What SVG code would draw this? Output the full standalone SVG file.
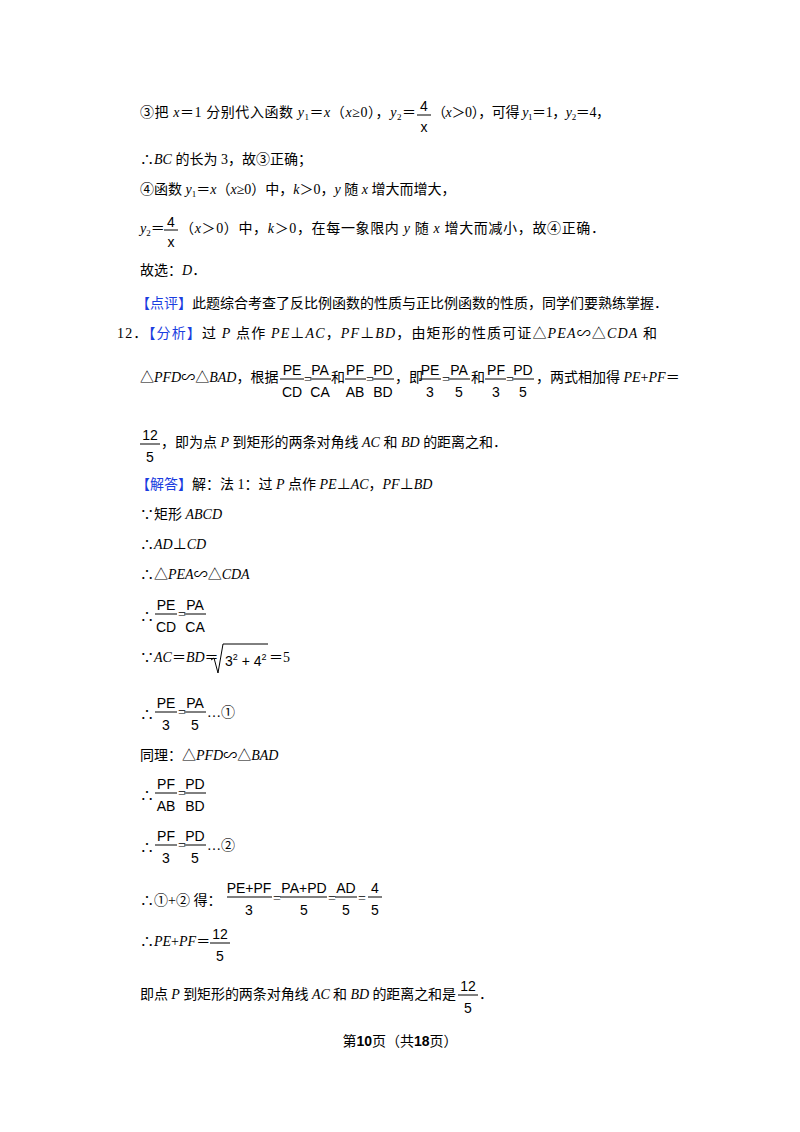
<svg xmlns="http://www.w3.org/2000/svg" width="800" height="1132" viewBox="0 0 800 1132">
<style>
text{font-family:"Liberation Serif","Noto Sans CJK SC",serif;font-size:14px;fill:#000}
.i{font-style:italic}
.b{fill:#1a3de0}
.f{font-family:"Liberation Sans Narrow","Liberation Sans",sans-serif;font-size:14px}
.c{text-anchor:middle}
line{stroke:#000;stroke-width:1}
.s{font-size:9px}
</style>
<rect width="800" height="1132" fill="#fff"/>
<g id="l1">
<text x="140" y="117" textLength="276">③把 <tspan class="i">x</tspan>＝1 分别代入函数 <tspan class="i">y</tspan><tspan class="s" dy="3">1</tspan><tspan dy="-3">＝</tspan><tspan class="i">x</tspan>（<tspan class="i">x</tspan>≥0），<tspan class="i">y</tspan><tspan class="s" dy="3">2</tspan><tspan dy="-3">＝</tspan></text>
<text class="f c" x="424" y="111">4</text><line x1="417" y1="115" x2="431" y2="115"/><text class="f c" x="424" y="132">x</text>
<text x="432" y="117" textLength="178">（<tspan class="i">x</tspan>＞0），可得 <tspan class="i">y</tspan><tspan class="s" dy="3">1</tspan><tspan dy="-3">＝1，</tspan><tspan class="i">y</tspan><tspan class="s" dy="3">2</tspan><tspan dy="-3">＝4，</tspan></text>
</g>
<g id="l2">
<text x="140" y="164">∴<tspan class="i">BC</tspan> 的长为 3，故③正确；</text>
<text x="140" y="194">④函数 <tspan class="i">y</tspan><tspan class="s" dy="3">1</tspan><tspan dy="-3">＝</tspan><tspan class="i">x</tspan>（<tspan class="i">x</tspan>≥0）中，<tspan class="i">k</tspan>＞0，<tspan class="i">y</tspan> 随 <tspan class="i">x</tspan> 增大而增大，</text>
<text x="140" y="233"><tspan class="i">y</tspan><tspan class="s" dy="3">2</tspan><tspan dy="-3">＝</tspan></text>
<text class="f c" x="171" y="227">4</text><line x1="164" y1="230" x2="178" y2="230"/><text class="f c" x="171" y="247">x</text>
<text x="180" y="233" textLength="425">（<tspan class="i">x</tspan>＞0）中，<tspan class="i">k</tspan>＞0，在每一象限内 <tspan class="i">y</tspan> 随 <tspan class="i">x</tspan> 增大而减小，故④正确．</text>
<text x="140" y="275">故选：<tspan class="i">D</tspan>．</text>
<text x="136" y="308"><tspan class="b">【点评】</tspan>此题综合考查了反比例函数的性质与正比例函数的性质，同学们要熟练掌握．</text>
</g>
<g id="l12">
<text x="117" y="338" textLength="540">12．<tspan class="b">【分析】</tspan>过 <tspan class="i">P</tspan> 点作 <tspan class="i">PE</tspan>⊥<tspan class="i">AC</tspan>，<tspan class="i">PF</tspan>⊥<tspan class="i">BD</tspan>，由矩形的性质可证△<tspan class="i">PEA</tspan>∽△<tspan class="i">CDA</tspan> 和</text>
<text x="140" y="382">△<tspan class="i">PFD</tspan>∽△<tspan class="i">BAD</tspan>，根据</text>
<text class="f c" x="292" y="375">PE</text><line x1="280" y1="379" x2="304" y2="379"/><text class="f c" x="292" y="397">CD</text>
<text x="304" y="384">=</text>
<text class="f c" x="320" y="375">PA</text><line x1="310" y1="379" x2="331" y2="379"/><text class="f c" x="320" y="397">CA</text>
<text x="331" y="382">和</text>
<text class="f c" x="355" y="375">PF</text><line x1="345" y1="379" x2="366" y2="379"/><text class="f c" x="355" y="397">AB</text>
<text x="366" y="384">=</text>
<text class="f c" x="383" y="375">PD</text><line x1="372" y1="379" x2="394" y2="379"/><text class="f c" x="383" y="397">BD</text>
<text x="395" y="382">，即</text>
<text class="f c" x="430" y="375">PE</text><line x1="419" y1="379" x2="441" y2="379"/><text class="f c" x="430" y="397">3</text>
<text x="442" y="384">=</text>
<text class="f c" x="459" y="375">PA</text><line x1="448" y1="379" x2="470" y2="379"/><text class="f c" x="459" y="397">5</text>
<text x="471" y="382">和</text>
<text class="f c" x="496" y="375">PF</text><line x1="485" y1="379" x2="506" y2="379"/><text class="f c" x="496" y="397">3</text>
<text x="506" y="384">=</text>
<text class="f c" x="523" y="375">PD</text><line x1="512" y1="379" x2="534" y2="379"/><text class="f c" x="523" y="397">5</text>
<text x="536" y="382">，两式相加得 <tspan class="i">PE</tspan>+<tspan class="i">PF</tspan>＝</text>
<text class="f c" x="150" y="440">12</text><line x1="140" y1="444" x2="160" y2="444"/><text class="f c" x="150" y="462">5</text>
<text x="161" y="447">，即为点 <tspan class="i">P</tspan> 到矩形的两条对角线 <tspan class="i">AC</tspan> 和 <tspan class="i">BD</tspan> 的距离之和．</text>
</g>
<g id="sol">
<text x="136" y="489"><tspan class="b">【解答】</tspan>解：法 1：过 <tspan class="i">P</tspan> 点作 <tspan class="i">PE</tspan>⊥<tspan class="i">AC</tspan>，<tspan class="i">PF</tspan>⊥<tspan class="i">BD</tspan></text>
<text x="140" y="519">∵矩形 <tspan class="i">ABCD</tspan></text>
<text x="140" y="549">∴<tspan class="i">AD</tspan>⊥<tspan class="i">CD</tspan></text>
<text x="140" y="579">∴△<tspan class="i">PEA</tspan>∽△<tspan class="i">CDA</tspan></text>
<text x="140" y="621">∴</text>
<text class="f c" x="166" y="610">PE</text><line x1="155" y1="614" x2="177" y2="614"/><text class="f c" x="166" y="632">CD</text>
<text x="178" y="619">=</text>
<text class="f c" x="195" y="610">PA</text><line x1="184" y1="614" x2="206" y2="614"/><text class="f c" x="195" y="632">CA</text>
<text x="140" y="662">∵<tspan class="i">AC</tspan>＝<tspan class="i">BD</tspan>＝</text>
<path d="M211 660 L214 658 L218 673 L223 644 L268 644" fill="none" stroke="#000"/>
<text class="f" x="225" y="666">3<tspan font-size="9" dy="-6">2</tspan><tspan dy="6"> + 4</tspan><tspan font-size="9" dy="-6">2</tspan></text>
<text x="269" y="662">＝5</text>
<text x="140" y="719">∴</text>
<text class="f c" x="166" y="708">PE</text><line x1="155" y1="712" x2="177" y2="712"/><text class="f c" x="166" y="730">3</text>
<text x="178" y="717">=</text>
<text class="f c" x="195" y="708">PA</text><line x1="184" y1="712" x2="206" y2="712"/><text class="f c" x="195" y="730">5</text>
<text x="207" y="717">…①</text>
<text x="140" y="760">同理：△<tspan class="i">PFD</tspan>∽△<tspan class="i">BAD</tspan></text>
<text x="140" y="800">∴</text>
<text class="f c" x="166" y="789">PF</text><line x1="155" y1="793" x2="177" y2="793"/><text class="f c" x="166" y="811">AB</text>
<text x="178" y="798">=</text>
<text class="f c" x="195" y="789">PD</text><line x1="184" y1="793" x2="206" y2="793"/><text class="f c" x="195" y="811">BD</text>
<text x="140" y="852">∴</text>
<text class="f c" x="166" y="841">PF</text><line x1="155" y1="845" x2="177" y2="845"/><text class="f c" x="166" y="863">3</text>
<text x="178" y="850">=</text>
<text class="f c" x="195" y="841">PD</text><line x1="184" y1="845" x2="206" y2="845"/><text class="f c" x="195" y="863">5</text>
<text x="207" y="850">…②</text>
<text x="140" y="905">∴①+② 得：</text>
<text class="f c" x="249" y="893">PE+PF</text><line x1="227" y1="897" x2="272" y2="897"/><text class="f c" x="249" y="915">3</text>
<text x="273" y="903">=</text>
<text class="f c" x="304" y="893">PA+PD</text><line x1="280" y1="897" x2="327" y2="897"/><text class="f c" x="304" y="915">5</text>
<text x="328" y="903">=</text>
<text class="f c" x="346" y="893">AD</text><line x1="335" y1="897" x2="357" y2="897"/><text class="f c" x="346" y="915">5</text>
<text x="358" y="903">=</text>
<text class="f c" x="375" y="893">4</text><line x1="368" y1="897" x2="382" y2="897"/><text class="f c" x="375" y="915">5</text>
<text x="140" y="946">∴<tspan class="i">PE</tspan>+<tspan class="i">PF</tspan>＝</text>
<text class="f c" x="220" y="939">12</text><line x1="210" y1="943" x2="230" y2="943"/><text class="f c" x="220" y="961">5</text>
<text x="140" y="999" textLength="316">即点 <tspan class="i">P</tspan> 到矩形的两条对角线 <tspan class="i">AC</tspan> 和 <tspan class="i">BD</tspan> 的距离之和是</text>
<text class="f c" x="468" y="991">12</text><line x1="458" y1="995" x2="478" y2="995"/><text class="f c" x="468" y="1013">5</text>
<text x="479" y="999">．</text>
</g>
<text x="400" y="1046" text-anchor="middle" font-size="13">第<tspan font-family="Liberation Sans" font-weight="bold" font-size="14">10</tspan>页（共<tspan font-family="Liberation Sans" font-weight="bold" font-size="14">18</tspan>页）</text>
</svg>
